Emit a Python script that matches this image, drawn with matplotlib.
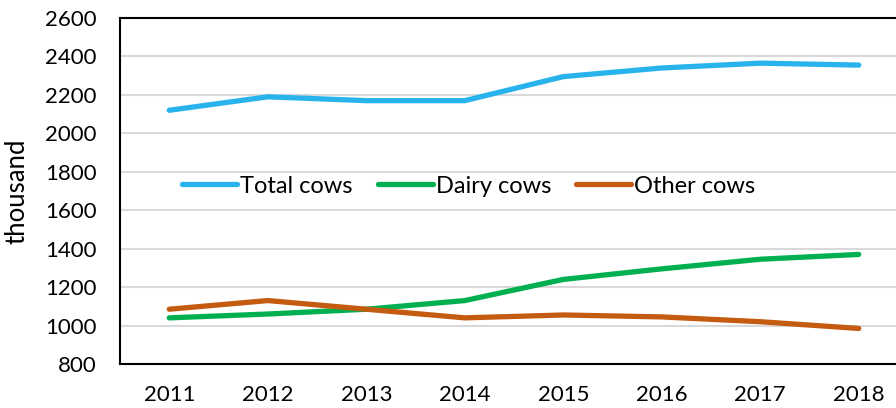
import matplotlib
matplotlib.use("Agg")
import matplotlib.pyplot as plt

years = ["2011", "2012", "2013", "2014", "2015", "2016", "2017", "2018"]
total_cows = [2120, 2190, 2170, 2170, 2295, 2340, 2365, 2355]
dairy_cows = [1040, 1060, 1085, 1130, 1240, 1295, 1345, 1370]
other_cows = [1085, 1130, 1085, 1040, 1055, 1045, 1020, 985]
series_names = ["Total cows", "Dairy cows", "Other cows"]
y_ticks = [800, 1000, 1200, 1400, 1600, 1800, 2000, 2200, 2400, 2600]

plt.rcParams["font.family"] = ["Lato", "DejaVu Sans"]

fig = plt.figure(figsize=(8.96, 4.08), dpi=100)
ax = fig.add_axes([120 / 896, 44 / 408, 788 / 896, 346 / 408])

colors = ["#29B3EC", "#00B050", "#C55A11"]
x = list(range(len(years)))
for vals, name, c in zip([total_cows, dairy_cows, other_cows], series_names, colors):
    ax.plot(x, vals, color=c, lw=3.8, solid_capstyle="round", solid_joinstyle="round",
            label=name, zorder=3)

ax.set_xlim(-0.5, len(years) - 0.5)
ax.set_ylim(800, 2600)
ax.set_yticks(y_ticks)
ax.set_yticklabels([str(v) for v in y_ticks])
ax.set_xticks(x)
ax.set_xticklabels(years)
ax.tick_params(axis="both", length=0, labelsize=16, colors="black")
ax.tick_params(axis="y", pad=17)
ax.tick_params(axis="x", pad=15)
ax.grid(axis="y", color="#D9D9D9", lw=1.5, zorder=0)
ax.set_axisbelow(True)
for s in ax.spines.values():
    s.set_color("black")
    s.set_linewidth(1.5)

ax.set_ylabel("thousand", fontsize=18.5)
ax.yaxis.set_label_coords(-90 / 788, 0.5)

ax.legend(loc="center left", bbox_to_anchor=(62 / 788, 0.514), ncol=3, frameon=False,
          fontsize=17, handlelength=2.33, handletextpad=0.13, columnspacing=1.06,
          borderaxespad=0, borderpad=0)

fig.savefig("out.png", dpi=100)
